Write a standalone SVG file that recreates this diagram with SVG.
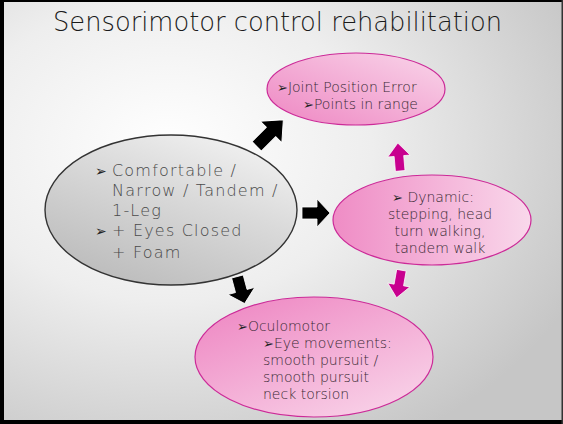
<svg xmlns="http://www.w3.org/2000/svg" width="563" height="424" viewBox="0 0 563 424">
<defs>
<radialGradient id="bg" cx="0.3" cy="0.35" r="0.8">
<stop offset="0" stop-color="#ffffff"/>
<stop offset="0.45" stop-color="#eeeeee"/>
<stop offset="1" stop-color="#c6c6c6"/>
</radialGradient>
<linearGradient id="greyFill" x1="0.2" y1="1" x2="0.8" y2="0">
<stop offset="0" stop-color="#bababa"/>
<stop offset="0.6" stop-color="#dadada"/>
<stop offset="1" stop-color="#f2f2f2"/>
</linearGradient>
<linearGradient id="pinkA" x1="0" y1="1" x2="1" y2="0">
<stop offset="0" stop-color="#ee86c2"/>
<stop offset="1" stop-color="#f9d6ea"/>
</linearGradient>
<linearGradient id="pinkB" x1="0" y1="0" x2="1" y2="0">
<stop offset="0" stop-color="#ef8cc5"/>
<stop offset="1" stop-color="#f9d8eb"/>
</linearGradient>
<linearGradient id="pinkC" x1="0.1" y1="0" x2="0.9" y2="1">
<stop offset="0" stop-color="#ee86c2"/>
<stop offset="1" stop-color="#f9d6ea"/>
</linearGradient>
<path id="arrow" d="M-14,-6 L1,-6 L1,-14 L14,0 L1,14 L1,6 L-14,6 Z"/>
</defs>
<style>
.t{font-family:"DejaVu Sans","Open Sans",sans-serif;font-weight:200;}
.title{font-size:26px;fill:#1a1a1a;}
.g{font-size:16px;fill:#4a4a4a;letter-spacing:1.2px;}
.p{font-size:14px;fill:#3a2a34;}
.b{font-family:"DejaVu Sans",sans-serif;font-weight:normal;letter-spacing:0;fill:#222;}
.pinkE{stroke:#cc2a98;stroke-width:1.2;}
.blk{fill:#000;stroke:#fff;stroke-width:0.8;}
.mag{fill:#c8008f;stroke:#fff;stroke-width:0.8;}
</style>
<rect x="0" y="0" width="563" height="424" fill="url(#bg)"/>
<rect x="0" y="0" width="4" height="424" fill="#000"/>
<rect x="0" y="0" width="563" height="2" fill="#000"/>
<rect x="0" y="420" width="563" height="4" fill="#000"/>
<rect x="561.5" y="0" width="1.5" height="424" fill="#333"/>
<text class="t title" x="53" y="31" textLength="449" lengthAdjust="spacingAndGlyphs">Sensorimotor control rehabilitation</text>

<g id="connectors">
<use href="#arrow" class="blk" transform="translate(270,133) rotate(-45) scale(1.35,1.1)"/>
<use href="#arrow" class="blk" transform="translate(316,213) scale(1,1)"/>
<use href="#arrow" class="blk" transform="translate(241,290) rotate(75) scale(1,1)"/>
<use href="#arrow" class="mag" transform="translate(399,157) rotate(-95) scale(1,0.8)"/>
<use href="#arrow" class="mag" transform="translate(399,284) rotate(100) scale(1,0.8)"/>
</g>

<g id="node-balance">
<ellipse cx="171" cy="210" rx="126" ry="75" fill="url(#greyFill)" stroke="#333" stroke-width="1.4"/>
<text class="t g" x="95" y="176"><tspan class="b" font-size="14">➢</tspan></text>
<text class="t g" x="112" y="176">Comfortable /</text>
<text class="t g" x="112" y="196">Narrow / Tandem /</text>
<text class="t g" x="112" y="216">1-Leg</text>
<text class="t g" x="95" y="236"><tspan class="b" font-size="14">➢</tspan></text>
<text class="t g" x="112" y="236">+ Eyes Closed</text>
<text class="t g" x="112" y="258">+ Foam</text>
</g>

<g id="node-jpe">
<ellipse cx="356" cy="89" rx="89" ry="36" fill="url(#pinkA)" class="pinkE"/>
<text class="t p" x="277" y="92"><tspan class="b" font-size="13">➢</tspan>Joint Position Error</text>
<text class="t p" x="303" y="109"><tspan class="b" font-size="13">➢</tspan>Points in range</text>
</g>

<g id="node-dynamic">
<ellipse cx="432" cy="220" rx="99" ry="45" fill="url(#pinkB)" class="pinkE"/>
<text class="t p" x="433" y="202" text-anchor="middle"><tspan class="b" font-size="13">➢</tspan> Dynamic:</text>
<text class="t p" x="440" y="219" text-anchor="middle">stepping, head</text>
<text class="t p" x="440" y="236" text-anchor="middle">turn walking,</text>
<text class="t p" x="440" y="253" text-anchor="middle">tandem walk</text>
</g>

<g id="node-oculomotor">
<ellipse cx="314" cy="357" rx="119" ry="60" fill="url(#pinkC)" class="pinkE"/>
<text class="t p" x="237" y="331"><tspan class="b" font-size="13">➢</tspan>Oculomotor</text>
<text class="t p" x="263" y="348"><tspan class="b" font-size="13">➢</tspan>Eye movements:</text>
<text class="t p" x="263" y="365">smooth pursuit /</text>
<text class="t p" x="263" y="382">smooth pursuit</text>
<text class="t p" x="263" y="399">neck torsion</text>
</g>
</svg>
